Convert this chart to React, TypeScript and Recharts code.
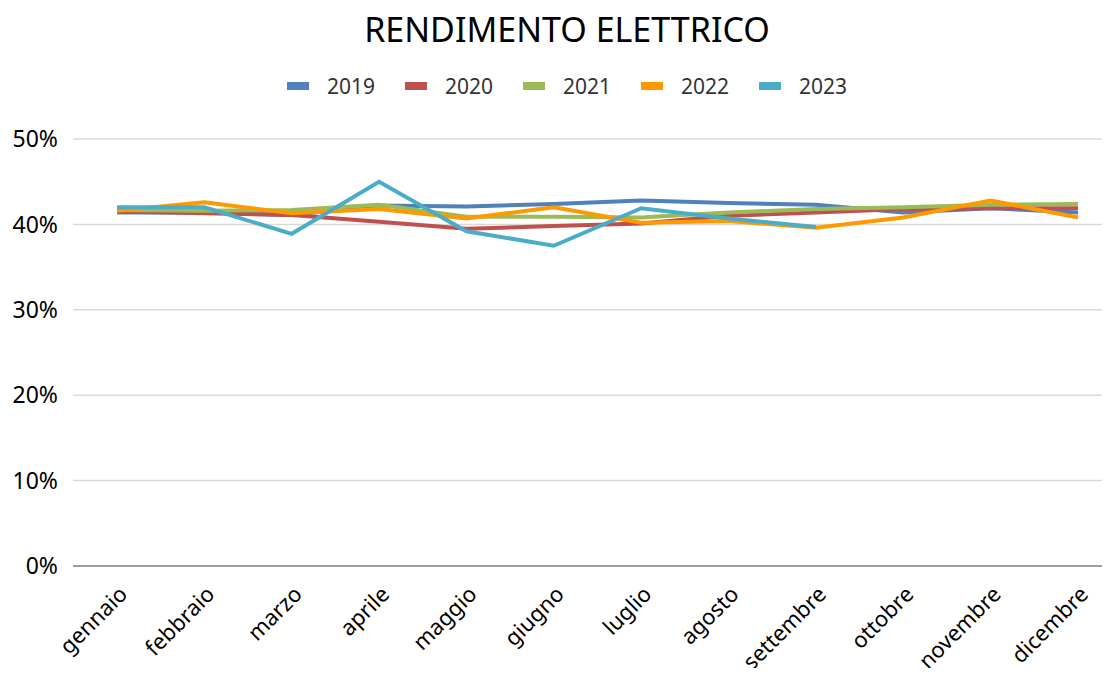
import { LineChart, Line, XAxis, YAxis, CartesianGrid } from "recharts";

const MONTHS = [
  "gennaio",
  "febbraio",
  "marzo",
  "aprile",
  "maggio",
  "giugno",
  "luglio",
  "agosto",
  "settembre",
  "ottobre",
  "novembre",
  "dicembre",
];

const Y2019 = [41.4, 41.4, 41.1, 42.2, 42.1, 42.4, 42.8, 42.5, 42.3, 41.4, 41.9, 41.4];
const Y2020 = [41.5, 41.3, 41.1, 40.3, 39.5, 39.8, 40.1, 41.0, 41.4, 41.8, 41.9, 41.9];
const Y2021 = [41.7, 41.6, 41.7, 42.3, 40.9, 40.9, 40.8, 41.4, 41.8, 42.0, 42.3, 42.4];
const Y2022 = [41.6, 42.6, 41.3, 41.8, 40.7, 42.0, 40.2, 40.4, 39.6, 40.8, 42.8, 40.8];
const Y2023 = [42.0, 42.0, 38.9, 45.0, 39.2, 37.5, 41.9, 40.7, 39.7, null, null, null];

const Y_TICKS = [0, 10, 20, 30, 40, 50];

const SERIES = [
  { key: "2019", values: Y2019, color: "#4F81BD" },
  { key: "2020", values: Y2020, color: "#C0504D" },
  { key: "2021", values: Y2021, color: "#9BBB59" },
  { key: "2022", values: Y2022, color: "#FF9900" },
  { key: "2023", values: Y2023, color: "#4BACC6" },
];

const data = MONTHS.map((m, i) => {
  const row: Record<string, string | number | null> = { month: m };
  SERIES.forEach((s) => {
    row[s.key] = s.values[i];
  });
  return row;
});

const FONT = "'Noto Sans', sans-serif";

function MonthTick({ x, y, payload }: any) {
  return (
    <g transform={`translate(${x + 6},${y + 16})`}>
      <text
        textAnchor="end"
        transform="rotate(-45)"
        fontSize={22}
        fill="#000"
        fontFamily={FONT}
        dy={8}
      >
        {payload.value}
      </text>
    </g>
  );
}

function LegendRow() {
  return (
    <div
      style={{
        position: "absolute",
        top: 72,
        left: 0,
        width: 1134,
        display: "flex",
        justifyContent: "center",
        fontFamily: FONT,
      }}
    >
      {SERIES.map((s, i) => (
        <div
          key={s.key}
          style={{
            display: "flex",
            alignItems: "center",
            width: i === SERIES.length - 1 ? "auto" : 118,
            fontSize: 21,
            color: "#333",
          }}
        >
          <span
            style={{
              display: "inline-block",
              width: 22,
              height: 8,
              background: s.color,
              marginRight: 18,
            }}
          />
          {s.key}
        </div>
      ))}
    </div>
  );
}

export default function App() {
  return (
    <div style={{ margin: -8, width: 1110, height: 676, overflow: "hidden", position: "relative", background: "#fff" }}>
      <div
        style={{
          position: "absolute",
          top: 6,
          left: 0,
          width: 1134,
          textAlign: "center",
          fontFamily: FONT,
          fontSize: 34,
          color: "#000",
        }}
      >
        RENDIMENTO ELETTRICO
      </div>
      <LegendRow />
      <LineChart
        width={1130}
        height={676}
        data={data}
        margin={{ top: 139, right: 8, left: 0, bottom: 0 }}
      >
        <CartesianGrid vertical={false} stroke="#D9D9D9" strokeWidth={1.5} />
        <XAxis
          dataKey="month"
          tickLine={false}
          axisLine={{ stroke: "#868686", strokeWidth: 1.5 }}
          tick={<MonthTick />}
          interval={0}
          height={110}
          padding={{ left: 44, right: 44 }}
        />
        <YAxis
          domain={[0, 50]}
          ticks={Y_TICKS}
          width={73}
          tickLine={false}
          axisLine={false}
          tickSize={0}
          tickMargin={15}
          tickFormatter={(v) => `${v}%`}
          tick={{ fontSize: 23, fill: "#000", fontFamily: FONT }}
        />
        {SERIES.map((s) => (
          <Line
            key={s.key}
            dataKey={s.key}
            name={s.key}
            stroke={s.color}
            strokeWidth={4}
            dot={false}
            type="linear"
            isAnimationActive={false}
          />
        ))}
      </LineChart>
    </div>
  );
}
